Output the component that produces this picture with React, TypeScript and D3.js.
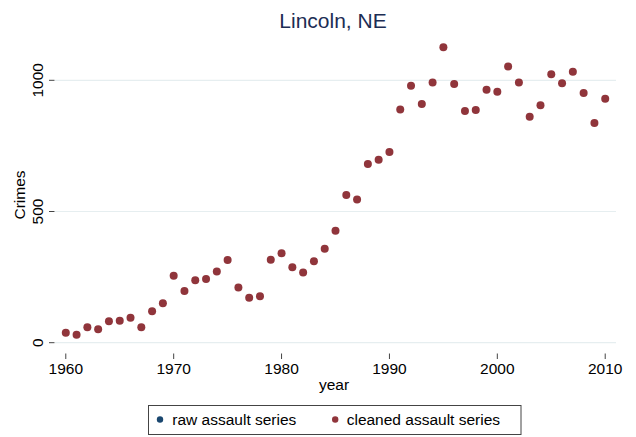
import React from "react";
import * as d3 from "d3";

const years: number[] = d3.range(1960, 2011);
const cleaned: number[] = [
  38, 30, 59, 51, 82, 84, 95, 59, 120, 150,
  255, 197, 238, 243, 271, 315, 210, 171, 177, 316,
  341, 288, 268, 310, 358, 427, 563, 546, 681, 697,
  727, 889, 979, 910, 992, 1126, 986, 883, 887, 964,
  956, 1053, 992, 861, 905, 1023, 989, 1033, 952, 837,
  930,
];
const xTicks: number[] = [1960, 1970, 1980, 1990, 2000, 2010];
const yTicks: number[] = [0, 500, 1000];
const legendLabels: string[] = ["raw assault series", "cleaned assault series"];
const title = "Lincoln, NE";

const W = 636;
const H = 437;
const FONT = "'Liberation Sans', Arial, Helvetica, sans-serif";
const NAVY = "#1A476F";
const MAROON = "#90353B";
const FS = 15.5;

export default function App() {
  const x = d3.scaleLinear().domain([1959, 2011]).range([55, 616]);
  const y = d3.scaleLinear().domain([0, 1000]).range([342.7, 80.3]);
  const data = years.map((yr, i) => ({ yr, v: cleaned[i] }));

  return (
    <svg
      width={W}
      height={H}
      style={{ position: "absolute", left: 0, top: 0, background: "#fff" }}
      fontFamily={FONT}
    >
      <rect width={W} height={H} fill="#fff" />
      <text x={333} y={28} textAnchor="middle" fontSize={21} fill="#1C2D54">
        {title}
      </text>
      {yTicks.map((t) => (
        <g key={"y" + t}>
          <line x1={55} x2={616} y1={y(t)} y2={y(t)} stroke="#E6EEF0" strokeWidth={1.2} />
          <line x1={49} x2={54.5} y1={y(t)} y2={y(t)} stroke="#444" strokeWidth={1} />
          <text
            transform={`translate(42.5,${y(t)}) rotate(-90)`}
            textAnchor="middle"
            fontSize={FS}
            fill="#000"
          >
            {t}
          </text>
        </g>
      ))}
      <text transform={`translate(24.5,195) rotate(-90)`} textAnchor="middle" fontSize={FS} fill="#000">
        Crimes
      </text>
      {xTicks.map((t) => (
        <g key={"x" + t}>
          <line x1={x(t)} x2={x(t)} y1={353.5} y2={359} stroke="#444" strokeWidth={1} />
          <text x={x(t)} y={374} textAnchor="middle" fontSize={FS} fill="#000">
            {t}
          </text>
        </g>
      ))}
      <text x={334} y={389.5} textAnchor="middle" fontSize={FS} fill="#000">
        year
      </text>
      {data.map((d) => (
        <circle key={d.yr} cx={x(d.yr)} cy={y(d.v)} r={4} fill={MAROON} />
      ))}
      <rect x={148.5} y={405.5} width={372.5} height={29} fill="#fff" stroke="#444" strokeWidth={1} />
      <circle cx={160} cy={419.5} r={3.2} fill={NAVY} />
      <text x={172.3} y={425} fontSize={FS} fill="#000">
        {legendLabels[0]}
      </text>
      <circle cx={335.2} cy={419.5} r={3.2} fill={MAROON} />
      <text x={346.7} y={425} fontSize={FS} fill="#000">
        {legendLabels[1]}
      </text>
    </svg>
  );
}
